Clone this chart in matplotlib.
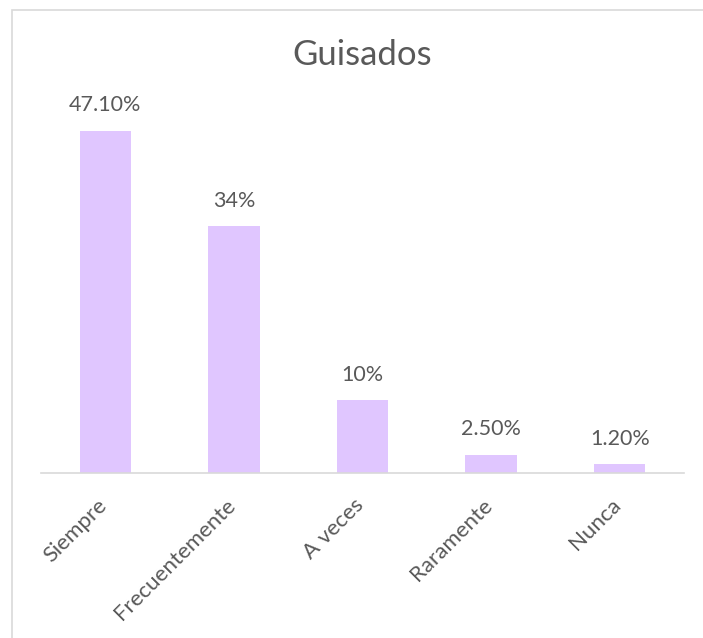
import matplotlib
matplotlib.use("Agg")
import matplotlib.pyplot as plt
from matplotlib.patches import Rectangle
from matplotlib.transforms import ScaledTranslation

categories = ["Siempre", "Frecuentemente", "A veces", "Raramente", "Nunca"]
values = [47.1, 34, 10, 2.5, 1.2]
labels = ["47.10%", "34%", "10%", "2.50%", "1.20%"]
title = "Guisados"

plt.rcParams['font.family'] = ['Lato', 'DejaVu Sans']
W, H = 703, 638
fig = plt.figure(figsize=(W/100, H/100), dpi=100)
fig.patch.set_facecolor("white")

# chart border
fig.add_artist(Rectangle((12/W, 1 - 648/H), 700/W, 638/H, transform=fig.transFigure,
                         fill=False, edgecolor="#D9D9D9", linewidth=1.2))

ax_left, ax_right = 41, 684
base_y = 472.7
top_y = base_y - 50 * (342/47.1)
ax = fig.add_axes([ax_left/W, 1 - base_y/H, (ax_right-ax_left)/W, (base_y-top_y)/H])
x = list(range(len(categories)))
ax.bar(x, values, width=0.4, color="#E0C6FF")
ax.set_xlim(-0.5, len(categories)-0.5)
ax.set_ylim(0, 50)
for s in ["top", "right", "left"]:
    ax.spines[s].set_visible(False)
ax.spines["bottom"].set_color("#D9D9D9")
ax.spines["bottom"].set_linewidth(1.2)
ax.set_yticks([])
ax.set_xticks(x)
ax.set_xticklabels(categories, rotation=45, ha="right", va="top", rotation_mode="anchor",
                   fontsize=16, color="#595959")
ax.tick_params(axis="x", length=0, pad=16)
shift = ScaledTranslation(-9/100, 0, fig.dpi_scale_trans)
for t in ax.get_xticklabels():
    t.set_transform(t.get_transform() + shift)
for xi, v, lab in zip(x, values, labels):
    ax.annotate(lab, (xi, v), xytext=(0, 11), textcoords="offset points",
                ha="center", va="bottom", fontsize=15.5, color="#595959")

fig.text((ax_left+ax_right)/2/W, 1 - 55/H, title, ha="center", va="center",
         fontsize=25, color="#595959")

fig.savefig("out.png", dpi=100)
